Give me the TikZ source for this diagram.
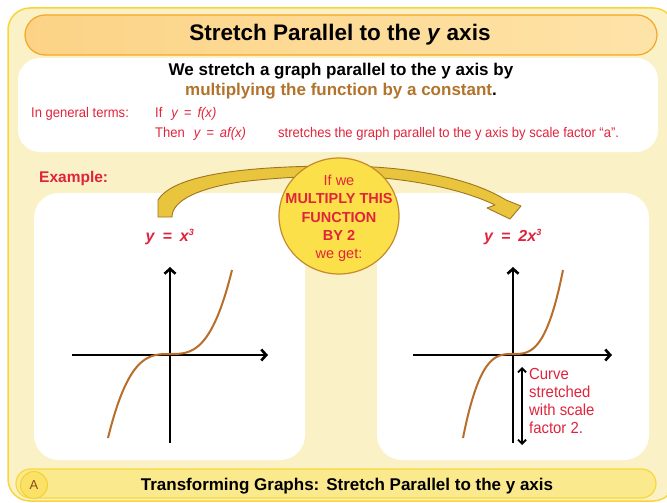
\documentclass[tikz,border=0pt]{standalone}
\usepackage{fontspec}
\setmainfont{Liberation Sans}
\newfontfamily\condfont{Liberation Sans}[FakeStretch=0.93]
\usetikzlibrary{arrows.meta,shapes.geometric}
\definecolor{framefill}{HTML}{FAF2C6}
\definecolor{framebord}{HTML}{F9D53A}
\definecolor{titleL}{HTML}{FCD386}
\definecolor{titleR}{HTML}{FEE3A8}
\definecolor{titlebord}{HTML}{F5A623}
\definecolor{redT}{HTML}{E0243C}
\definecolor{brownT}{HTML}{B2732C}
\definecolor{curveC}{HTML}{B86E2A}
\definecolor{bubfill}{HTML}{FCE04A}
\definecolor{bubdraw}{HTML}{C48A2C}
\definecolor{arrfill}{HTML}{E8C53C}
\definecolor{arrdraw}{HTML}{A07420}
\definecolor{barfill}{HTML}{FBE98E}
\definecolor{barbord}{HTML}{F8D838}
\definecolor{Afill}{HTML}{FBE266}
\definecolor{Adraw}{HTML}{F3D03A}
\definecolor{Atext}{HTML}{8B4A1A}
\tikzset{
  axisline/.style={line width=2.6pt, black, -{Straight Barb[length=5pt,width=11pt]}},
  curveline/.style={line width=2pt, curveC},
  panel/.style={fill=white, rounded corners=25pt},
  txt/.style={inner sep=0pt},
  redtxt/.style={inner sep=0pt, text=redT, font=\condfont\fontsize{14}{16}\selectfont},
}
\begin{document}
\begin{tikzpicture}[x=1pt,y=-1pt]
\useasboundingbox (0,0) rectangle (667,503);
\fill[white] (0,0) rectangle (667,503);
% outer frame
\draw[rounded corners=22pt, fill=framefill, draw=framebord, line width=1.5pt] (8,8) rectangle (675,501);
% title bar
\draw[rounded corners=20pt, left color=titleL, right color=titleR, draw=titlebord, line width=1.2pt] (25,15) rectangle (657,55);
\node[txt, font=\fontsize{22.5}{26}\selectfont\bfseries] (title) at (340,35) {Stretch Parallel to the \textit{y} axis};
% top white box
\fill[white, rounded corners=22pt] (18,58) rectangle (658,152);
\node[txt, font=\fontsize{17}{20}\selectfont\bfseries] (intro1) at (341,71) {We stretch a graph parallel to the y axis by};
\node[txt, font=\fontsize{17}{20}\selectfont\bfseries] (intro2) at (341,91) {\textcolor{brownT}{multiplying the function by a constant}.};
\node[redtxt, anchor=west] (gen) at (31,114) {In general terms:};
\node[redtxt, anchor=west] (ifl) at (155,114) {If\hspace{9pt}\textit{y\hspace{6pt}=\hspace{6pt}f(x)}};
\node[redtxt, anchor=west] (thenl) at (155,134) {Then\hspace{9pt}\textit{y\hspace{6pt}=\hspace{6pt}af(x)}};
\node[redtxt, anchor=west] (str) at (278,134) {stretches the graph parallel to the y axis by scale factor “a”.};
% example
\node[txt, anchor=west, text=redT, font=\fontsize{15.5}{18}\selectfont\bfseries] (ex) at (39,178) {Example:};
% panels
\fill[panel] (34,193) rectangle (305,460);
\fill[panel] (377,193) rectangle (649,460);
% curved arrow
\draw[fill=arrfill, draw=arrdraw, line width=0.9pt, line join=round]
  (158,217) -- (172,217)
  .. controls (172,200) and (200,188) .. (240,182)
  .. controls (280,177) and (320,176) .. (339,176)
  .. controls (400,176) and (460,188) .. (495,205)
  -- (487,208) -- (510,219) -- (521,206) -- (506,200)
  .. controls (470,178) and (410,166) .. (339,166)
  .. controls (260,166) and (175,172) .. (158,200) -- cycle;
% bubble
\node[draw=bubdraw, fill=bubfill, line width=1.2pt, ellipse, minimum width=120pt, minimum height=116pt, inner sep=0pt] (bubble) at (339,216) {};
\node[txt, align=center, text=redT, font=\fontsize{14.5}{18.3}\selectfont] (bubtext) at (339,218.5)
  {If we\\\textbf{MULTIPLY THIS}\\\textbf{FUNCTION}\\\textbf{BY 2}\\we get:};
% function labels
\node[txt, text=redT, font=\fontsize{16}{18}\selectfont\bfseries\itshape] (f1) at (170,237) {y\hspace{8pt}=\hspace{8pt}x\textsuperscript{\fontsize{9}{9}\selectfont 3}};
\node[txt, text=redT, font=\fontsize{16}{18}\selectfont\bfseries\itshape] (f2) at (513,237) {y\hspace{8pt}=\hspace{8pt}2x\textsuperscript{\fontsize{9}{9}\selectfont 3}};
% left graph
\coordinate (lyb) at (170,443);
\coordinate (lyt) at (170,267);
\coordinate (lxl) at (72,355);
\coordinate (lxr) at (268,355);
\draw[axisline] (lyb) -- (lyt);
\draw[axisline] (lxl) -- (lxr);
\draw[curveline] plot[smooth, domain=-1:1, samples=80] ({170+62*\x}, {354-84*\x*\x*\x});
% right graph
\coordinate (ryb) at (513,443);
\coordinate (ryt) at (513,267);
\coordinate (rxl) at (413,355);
\coordinate (rxr) at (612,355);
\draw[axisline] (ryb) -- (ryt);
\draw[axisline] (rxl) -- (rxr);
\draw[curveline] plot[smooth, domain=-1:1, samples=80] ({513+50*\x}, {354-84*\x*\x*\x});
% stretch arrow
\coordinate (da1) at (522,367);
\coordinate (da2) at (522,445);
\draw[line width=1.8pt, {Straight Barb[length=4pt,width=8pt]}-{Straight Barb[length=4pt,width=8pt]}] (da1) -- (da2);
\node[txt, anchor=north west, align=left, text=redT, font=\condfont\fontsize{16}{18}\selectfont] (note) at (529,368)
  {Curve\\stretched\\with scale\\factor 2.};
% bottom bar
\draw[rounded corners=14.5pt, fill=barfill, draw=barbord, line width=1.2pt] (16,469) rectangle (656,498);
\node[circle, fill=Afill, draw=Adraw, line width=1pt, minimum size=27pt, inner sep=0pt, text=Atext, font=\fontsize{13}{14}\selectfont] (Abadge) at (34,485) {A};
\node[txt, font=\fontsize{17}{20}\selectfont\bfseries] (footer) at (347,486) {Transforming Graphs:\hspace{7pt}Stretch Parallel to the y axis};
\end{tikzpicture}
\end{document}
